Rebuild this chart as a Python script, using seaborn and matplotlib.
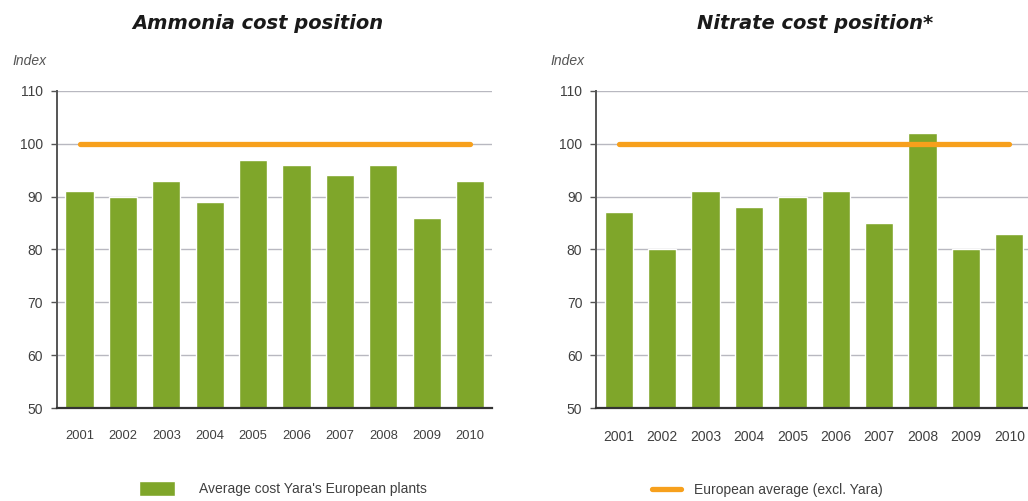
import matplotlib
matplotlib.use("Agg")
import matplotlib.pyplot as plt
import seaborn as sns
import pandas as pd

# ---------- DATA ----------
years = ["2001", "2002", "2003", "2004", "2005", "2006", "2007", "2008", "2009", "2010"]
ammonia_yara = [91, 90, 93, 89, 97, 96, 94, 96, 86, 93]
nitrate_yara = [87, 80, 91, 88, 90, 91, 85, 102, 80, 83]
europe_avg = [100, 100, 100, 100, 100, 100, 100, 100, 100, 100]
y_ticks = [50, 60, 70, 80, 90, 100, 110]

titles = ["Ammonia cost position", "Nitrate cost position*"]
bar_label = "Average cost Yara's European plants"
line_label = "European average (excl. Yara)"

GREEN = "#7FA62A"
ORANGE = "#F7A01C"
TEXT = "#404040"

sns.set_theme(style="white")
plt.rcParams["font.family"] = ["Liberation Sans", "DejaVu Sans"]

fig = plt.figure(figsize=(10.28, 5.01), dpi=100)
ax_l = fig.add_axes([0.0554, 0.1856, 0.423, 0.633])
ax_r = fig.add_axes([0.5800, 0.1856, 0.423, 0.633])

handles = None
for ax, vals, tsize in [(ax_l, ammonia_yara, 9.3), (ax_r, nitrate_yara, 10)]:
    df = pd.DataFrame({"year": years, "yara": vals, "avg": europe_avg})
    ax.set_axisbelow(True)
    ax.yaxis.grid(True, color="#B8B8C0", linewidth=1.0)
    sns.barplot(data=df, x="year", y="yara", color=GREEN, saturation=1,
                width=0.65, ax=ax, label=bar_label)
    sns.lineplot(data=df, x="year", y="avg", color=ORANGE, linewidth=3.8,
                 solid_capstyle="round", ax=ax, label=line_label, zorder=3)
    if handles is None:
        handles, labels = ax.get_legend_handles_labels()
    ax.set_ylim(50, 110)
    ax.set_yticks(y_ticks)
    ax.set_xlim(-0.52, 9.5)
    ax.set_xlabel("")
    ax.set_ylabel("")
    ax.legend().remove()
    for s in ["top", "right"]:
        ax.spines[s].set_visible(False)
    ax.spines["left"].set_color("#555555")
    ax.spines["left"].set_linewidth(1.4)
    ax.spines["bottom"].set_color("#333333")
    ax.spines["bottom"].set_linewidth(1.6)
    ax.tick_params(axis="y", left=True, length=4, width=1, color="#555555",
                   labelsize=10, labelcolor=TEXT, pad=6)
    ax.tick_params(axis="x", bottom=False, labelsize=tsize, labelcolor=TEXT, pad=10)

# titles and axis captions
for x, t in [(0.251, titles[0]), (0.793, titles[1])]:
    fig.text(x, 0.954, t, ha="center", va="center", fontsize=14,
             family="DejaVu Sans", fontweight="bold", fontstyle="italic",
             color="#1a1a1a")
for x in [0.012, 0.535]:
    fig.text(x, 0.879, "Index", ha="left", va="center", fontsize=10,
             fontstyle="italic", color="#555555")

# legends
h = dict(zip(labels, handles))
fig.legend([h[bar_label]], [bar_label], loc="center left", bbox_to_anchor=(0.123, 0.025),
           frameon=False, fontsize=10, handlelength=2.6, handleheight=1.3,
           handletextpad=1.7, labelcolor=TEXT)
fig.legend([h[line_label]], [line_label], loc="center left", bbox_to_anchor=(0.622, 0.022),
           frameon=False, fontsize=10, handlelength=2.1, handletextpad=0.9,
           labelcolor=TEXT)

fig.savefig("out.png", dpi=100)
